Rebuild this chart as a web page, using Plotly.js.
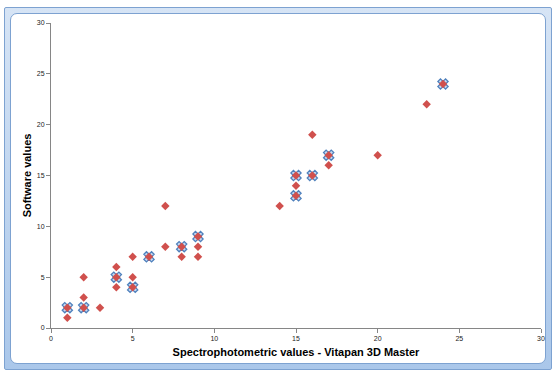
<!DOCTYPE html>
<html>
<head>
<meta charset="utf-8">
<script src="https://cdn.plot.ly/plotly-3.0.1.min.js"></script>
<style>
  html, body { margin: 0; padding: 0; background: #ffffff; }
  #wrap { position: relative; width: 556px; height: 374px; overflow: hidden; }
  #frame {
    position: absolute; left: 4px; top: 7px; width: 548px; height: 363px;
    box-sizing: border-box; border: 1px solid #7da2d1;
    background: linear-gradient(#d6e4f5, #aac7ea);
    border-radius: 2px;
  }
  #inner {
    position: absolute; left: 5px; top: 5px; right: 5px; bottom: 5px;
    background: #ffffff; border: 1px solid #7da2d1; border-radius: 7px;
  }
  #chart { position: absolute; left: 0; top: 0; width: 556px; height: 374px; }
</style>
</head>
<body>
<div id="wrap">
  <div id="frame"><div id="inner"></div></div>
  <div id="chart"></div>
</div>
<script>
// Software readings against spectrophotometric (Vitapan 3D Master) readings
const allX = [1, 1, 2, 2, 2, 3, 4, 4, 4, 5, 5, 5, 6, 7, 7, 8, 8, 9, 9, 9, 14, 15, 15, 15, 16, 16, 17, 17, 20, 23, 24];
const allY = [1, 2, 2, 3, 5, 2, 4, 5, 6, 4, 5, 7, 7, 8, 12, 7, 8, 7, 8, 9, 12, 13, 14, 15, 15, 19, 16, 17, 17, 22, 24];

// Highlighted pairs
const hiX = [1, 2, 4, 5, 6, 8, 9, 15, 15, 16, 17, 24];
const hiY = [2, 2, 5, 4, 7, 8, 9, 13, 15, 15, 17, 24];

const xTicks = [0, 5, 10, 15, 20, 25, 30];
const yTicks = [0, 5, 10, 15, 20, 25, 30];

const traces = [
  {
    x: hiX, y: hiY, type: 'scatter', mode: 'markers', name: 'Highlighted',
    marker: { symbol: 'x', size: 9, color: '#c6d9f0', line: { color: '#4f81bd', width: 1.3 } },
    hoverinfo: 'x+y'
  },
  {
    x: allX, y: allY, type: 'scatter', mode: 'markers', name: 'All',
    marker: { symbol: 'diamond', size: 6.5, color: '#d0504d', line: { width: 0 } },
    hoverinfo: 'x+y'
  }
];

const axisFont = { family: 'Liberation Sans Narrow, Liberation Sans, Arial, sans-serif', size: 11, color: '#000000' };
const tickFont = { family: 'Liberation Sans, Arial, sans-serif', size: 7, color: '#222222' };

const layout = {
  width: 556, height: 374,
  margin: { l: 51, r: 15, t: 23, b: 46 },
  paper_bgcolor: 'rgba(0,0,0,0)',
  plot_bgcolor: 'rgba(0,0,0,0)',
  showlegend: false,
  xaxis: {
    range: [0, 30], tickvals: xTicks, ticktext: xTicks.map(String),
    showgrid: false, zeroline: false, showline: true, linecolor: '#868686', linewidth: 1,
    ticks: 'outside', ticklen: 4, tickcolor: '#868686', tickfont: tickFont,
    title: { text: '<b>Spectrophotometric values - Vitapan 3D Master</b>', font: axisFont, standoff: 6 }
  },
  yaxis: {
    range: [0, 30], tickvals: yTicks, ticktext: yTicks.map(String),
    showgrid: false, zeroline: false, showline: true, linecolor: '#868686', linewidth: 1,
    ticks: 'outside', ticklen: 4, tickcolor: '#868686', tickfont: tickFont,
    title: { text: '<b>Software values</b>', font: axisFont, standoff: 2 }
  }
};

Plotly.newPlot('chart', traces, layout, { displayModeBar: false, staticPlot: true });
</script>
</body>
</html>
